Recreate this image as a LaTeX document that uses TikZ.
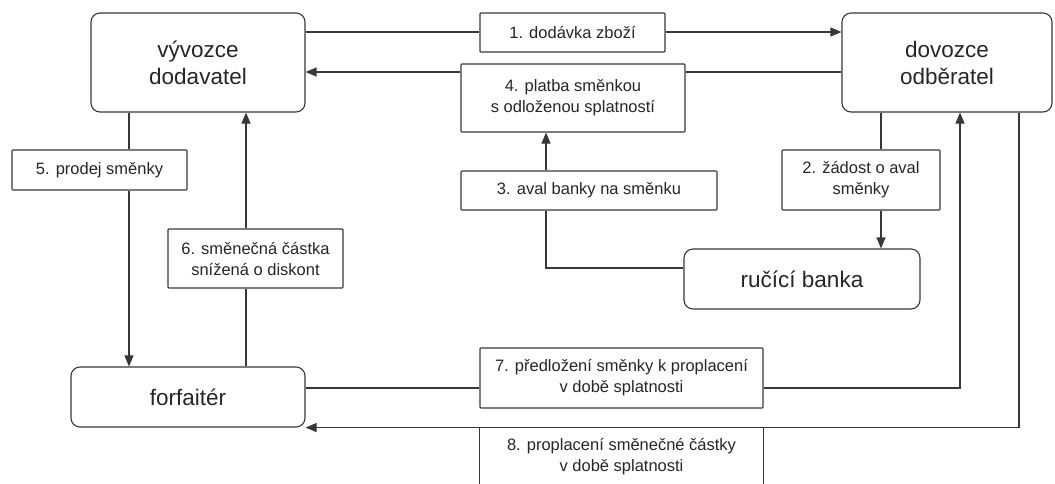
\documentclass[tikz,border=0pt]{standalone}
\usepackage{fontspec}
\setmainfont{Liberation Sans}
\usetikzlibrary{arrows.meta,calc}
\begin{document}
\begin{tikzpicture}[x=1pt,y=-1pt,
  ln/.style={draw=black!78,line width=1.1pt},
  arr/.style={ln,-{Triangle[length=11pt,width=9pt]}},
  mainbox/.style={ln,rounded corners=9pt,inner sep=0pt,align=center,text=black!85,
     font=\fontsize{22.5}{27}\selectfont},
  lbl/.style={ln,rounded corners=0.8pt,inner sep=0pt,align=center,text=black!85,
     font=\fontsize{16.5}{21}\selectfont}]
\useasboundingbox (0,0) rectangle (1055,483);
\clip (0,0) rectangle (1055,483);
% main nodes
\node[mainbox,minimum width=214pt,minimum height=99pt] (vyv) at (198,62.5) {vývozce\\dodavatel};
\node[mainbox,minimum width=210pt,minimum height=99pt] (dov) at (947,62.5) {dovozce\\odběratel};
\node[mainbox,minimum width=236pt,minimum height=60pt] (rb) at (802,279) {ručící banka};
\node[mainbox,minimum width=234pt,minimum height=60pt] (forf) at (188,397) {forfaitér};
% label boxes
\node[lbl,minimum width=185pt,minimum height=39pt] (b1) at (572.5,32.5) {1. dodávka zboží};
\node[lbl,minimum width=224pt,minimum height=68pt] (b4) at (573,98) {4. platba směnkou\\s odloženou splatností};
\node[lbl,minimum width=256pt,minimum height=39pt] (b3) at (589,190.5) {3. aval banky na směnku};
\node[lbl,minimum width=158pt,minimum height=60pt] (b2) at (861,180) {2. žádost o aval\\směnky};
\node[lbl,minimum width=175pt,minimum height=40pt] (b5) at (99.5,170) {5. prodej směnky};
\node[lbl,minimum width=175pt,minimum height=59pt] (b6) at (255.5,258.5) {6. směnečná částka\\snížená o diskont};
\node[lbl,minimum width=283pt,minimum height=60pt] (b7) at (621.5,378) {7. předložení směnky k proplacení\\v době splatnosti};
\node[lbl,minimum width=283pt,minimum height=80pt,anchor=north,draw=none] (b8) at (621.5,427) {};
\draw[ln] (b8.north west) -- (b8.south west) -- (b8.south east) -- (b8.north east);
\node[align=center,text=black!85,font=\fontsize{16.5}{21}\selectfont,inner sep=0pt] (t8) at (621.5,457) {8. proplacení směnečné částky\\v době splatnosti};
% helper coordinates
\coordinate (y1) at (0,32);
\coordinate (y4) at (0,72);
\coordinate (x3) at (546,0);
\coordinate (y3) at (0,268);
\coordinate (x2) at (881,0);
\coordinate (x5) at (129,0);
\coordinate (x6) at (246,0);
\coordinate (y7) at (0,388);
\coordinate (x7) at (960,0);
\coordinate (x8) at (1019,0);
% 1
\draw[ln] (y1 -| vyv.east) -- (y1 -| b1.west);
\draw[arr] (y1 -| b1.east) -- (y1 -| dov.west);
% 4
\draw[ln] (y4 -| dov.west) -- (y4 -| b4.east);
\draw[arr] (y4 -| b4.west) -- (y4 -| vyv.east);
% 3
\draw[arr] (x3 |- b3.north) -- (x3 |- b4.south);
\draw[ln] (x3 |- b3.south) |- (y3 -| rb.west);
% 2
\draw[ln] (x2 |- dov.south) -- (x2 |- b2.north);
\draw[arr] (x2 |- b2.south) -- (x2 |- rb.north);
% 5
\draw[ln] (x5 |- vyv.south) -- (x5 |- b5.north);
\draw[arr] (x5 |- b5.south) -- (x5 |- forf.north);
% 6
\draw[ln] (x6 |- forf.north) -- (x6 |- b6.south);
\draw[arr] (x6 |- b6.north) -- (x6 |- vyv.south);
% 7
\draw[ln] (y7 -| forf.east) -- (y7 -| b7.west);
\draw[arr] (y7 -| b7.east) -| (x7 |- dov.south);
% 8
\draw[arr] (x8 |- dov.south) |- (forf.south east);
\end{tikzpicture}
\end{document}
